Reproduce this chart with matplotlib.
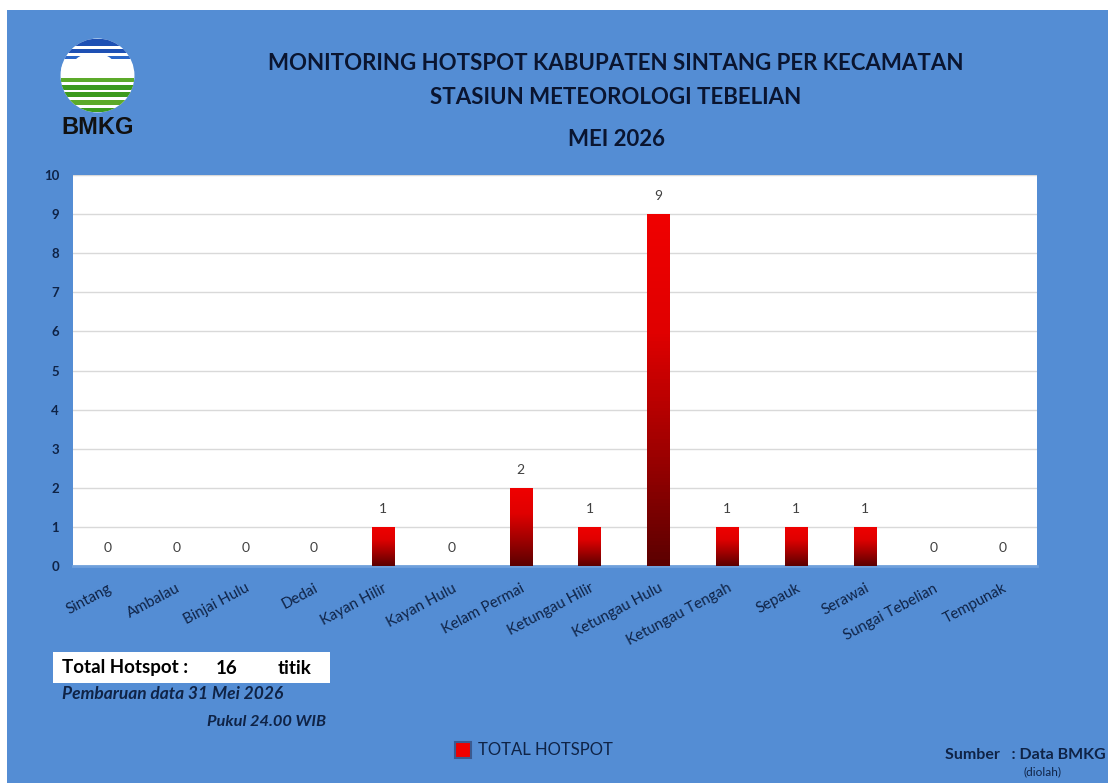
import numpy as np
import matplotlib.pyplot as plt
from matplotlib.patches import Circle, Rectangle, Ellipse
from matplotlib.colors import LinearSegmentedColormap

# data hotspot per kecamatan
kecamatan = ['Sintang', 'Ambalau', 'Binjai Hulu', 'Dedai', 'Kayan Hilir', 'Kayan Hulu',
             'Kelam Permai', 'Ketungau Hilir', 'Ketungau Hulu', 'Ketungau Tengah',
             'Sepauk', 'Serawai', 'Sungai Tebelian', 'Tempunak']
hotspot = [0, 0, 0, 0, 1, 0, 2, 1, 9, 1, 1, 1, 0, 0]
y_ticks = list(range(0, 11))

W, H = 1108, 783
BG = '#548DD4'
NAVY = '#0F2346'
plt.rcParams['font.family'] = ['Lato', 'DejaVu Sans']

fig = plt.figure(figsize=(W / 100, H / 100), dpi=100)
fig.patch.set_facecolor(BG)

def fx(x): return x / W
def fy(y): return 1 - y / H

# strip putih atas dan kiri
fig.patches.append(Rectangle((0, fy(10)), 1, 1 - fy(10), transform=fig.transFigure,
                             facecolor='white', edgecolor='none', zorder=-1))
fig.patches.append(Rectangle((0, 0), fx(7), 1, transform=fig.transFigure,
                             facecolor='white', edgecolor='none', zorder=-1))

# plot area
ax = fig.add_axes([fx(73), fy(566), fx(1037) - fx(73), fy(175) - fy(566)])
ax.set_facecolor('white')
x = np.arange(len(kecamatan))
bars = ax.bar(x, hotspot, width=0.32, color='none', edgecolor='none', zorder=3)

# gradient merah -> merah gelap
grad = np.linspace(1, 0, 100).reshape(-1, 1)
cmap = LinearSegmentedColormap.from_list('r', ['#5C0000', '#A00000', '#E00000', '#F00000'])
for b, v in zip(bars, hotspot):
    if v > 0:
        im = ax.imshow(grad, cmap=cmap, aspect='auto', zorder=3,
                       extent=[b.get_x(), b.get_x() + b.get_width(), 0, v])
        im.set_clip_path(b)
    ax.annotate(str(v), (b.get_x() + b.get_width() / 2, v), xytext=(0, 13),
                textcoords='offset points', ha='center', va='center',
                fontsize=10, color='#404040', zorder=4,
                bbox=dict(facecolor='white', edgecolor='none', pad=1))

ax.set_xlim(-0.5, len(kecamatan) - 0.5)
ax.set_ylim(0, 10)
ax.set_yticks(y_ticks)
ax.set_yticklabels([str(t) for t in y_ticks], fontsize=9.5, color=NAVY, fontweight='bold')
ax.set_xticks(x)
ax.set_xticklabels(kecamatan, rotation=28, ha='right', rotation_mode='anchor',
                   fontsize=10.8, color=NAVY)
ax.tick_params(axis='both', length=0)
ax.tick_params(axis='y', pad=10)
ax.tick_params(axis='x', pad=11)
ax.grid(axis='y', color='#D9D9D9', linewidth=1, zorder=0)
ax.set_axisbelow(True)
for s in ['top', 'right', 'left']:
    ax.spines[s].set_visible(False)
ax.spines['bottom'].set_color('#6FA0DC')
ax.spines['bottom'].set_linewidth(2)

# judul
fig.text(fx(616), fy(63), 'MONITORING HOTSPOT KABUPATEN SINTANG PER KECAMATAN',
         ha='center', va='center', fontsize=16, fontweight='bold', color='#0A1530')
fig.text(fx(616), fy(97), 'STASIUN METEOROLOGI TEBELIAN',
         ha='center', va='center', fontsize=16, fontweight='bold', color='#0A1530')
fig.text(fx(616), fy(140), 'MEI 2026',
         ha='center', va='center', fontsize=16, fontweight='bold', color='#0A1530')

# logo BMKG
lax = fig.add_axes([fx(55), fy(118), fx(85), fy(0) - fy(85)])
lax.set_xlim(-1.15, 1.15)
lax.set_ylim(-1.15, 1.15)
lax.set_aspect('equal')
lax.axis('off')
circ = Circle((0, 0), 1, facecolor='white', edgecolor='none')
lax.add_patch(circ)
stripes = [(0.80, 1.0, '#1E50B4'), (0.62, 0.72, '#1E50B4'), (0.46, 0.54, '#2B66C8'),
           (-0.18, -0.08, '#5CAA2A'), (-0.38, -0.26, '#3C9A1E'), (-0.58, -0.46, '#3C9A1E'),
           (-0.80, -0.66, '#5CAA2A'), (-1.0, -0.88, '#3C9A1E')]
for y0, y1, c in stripes:
    r = lax.add_patch(Rectangle((-1, y0), 2, y1 - y0, facecolor=c, edgecolor='none'))
    r.set_clip_path(circ)
# awan putih
for cx, cy, w, h in [(-0.1, 0.3, 1.1, 0.6), (0.5, 0.25, 0.7, 0.35), (-0.6, 0.18, 0.8, 0.35)]:
    e = lax.add_patch(Ellipse((cx, cy), w, h, facecolor='white', edgecolor='none'))
    e.set_clip_path(circ)
fig.text(fx(98), fy(128), 'BMKG', ha='center', va='center', fontsize=17,
         fontweight='bold', color='#111111', family=['Liberation Sans', 'DejaVu Sans'])

# kotak total
fig.patches.append(Rectangle((fx(53), fy(683)), fx(330) - fx(53), fy(652) - fy(683),
                             transform=fig.transFigure, facecolor='white',
                             edgecolor='none'))
fig.text(fx(62), fy(668), 'Total Hotspot :', ha='left', va='center', fontsize=13.5,
         fontweight='bold', color='black')
fig.text(fx(227), fy(668), str(sum(hotspot)), ha='center', va='center', fontsize=13.5,
         fontweight='bold', color='black')
fig.text(fx(278), fy(668), 'titik', ha='left', va='center', fontsize=13.5,
         fontweight='bold', color='black')
fig.text(fx(62), fy(694), 'Pembaruan data 31 Mei 2026', ha='left', va='center',
         fontsize=12.5, fontweight='bold', style='italic', color=NAVY)
fig.text(fx(207), fy(722), 'Pukul 24.00 WIB', ha='left', va='center',
         fontsize=11.8, fontweight='bold', style='italic', color=NAVY)

# legenda
fig.patches.append(Rectangle((fx(455), fy(758)), fx(16), fy(742) - fy(758),
                             transform=fig.transFigure, facecolor='#F00000',
                             edgecolor='#3A5A90', linewidth=1.5))
fig.text(fx(478), fy(750), 'TOTAL HOTSPOT', ha='left', va='center', fontsize=12,
         color=NAVY)

# sumber
fig.text(fx(945), fy(755), 'Sumber   : Data BMKG', ha='left', va='center',
         fontsize=11.5, fontweight='bold', color=NAVY)
fig.text(fx(1042), fy(772), '(diolah)', ha='center', va='center', fontsize=8.5,
         color=NAVY)

fig.savefig('out.png', dpi=100, facecolor=fig.get_facecolor())
